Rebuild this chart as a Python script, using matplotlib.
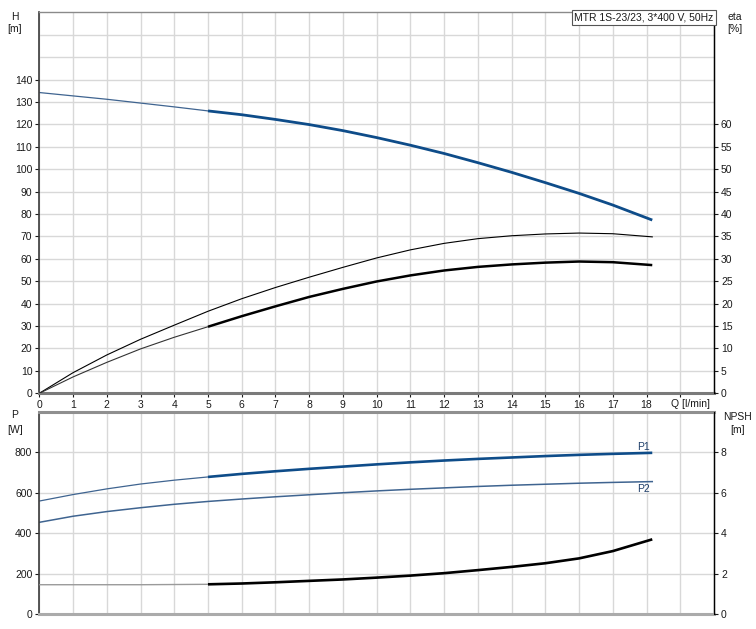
import matplotlib
matplotlib.use("Agg")
import matplotlib.pyplot as plt

# flow [l/min]
q = [0, 1, 2, 3, 4, 5, 6, 7, 8, 9, 10, 11, 12, 13, 14, 15, 16, 17, 18.17]

# head [m]
head = [134.2, 132.7, 131.2, 129.5, 127.8, 126.0, 124.3, 122.2, 119.9, 117.2,
        114.1, 110.7, 107.0, 102.9, 98.6, 94.0, 89.2, 84.0, 77.3]

# efficiencies [%]
eta_upper = [0, 4.6, 8.55, 12.05, 15.2, 18.3, 21.1, 23.6, 25.9, 28.1,
             30.2, 32.0, 33.45, 34.5, 35.15, 35.55, 35.75, 35.6, 34.9]
eta_lower = [0, 3.65, 6.9, 9.9, 12.5, 14.85, 17.2, 19.4, 21.5, 23.3,
             24.95, 26.3, 27.4, 28.2, 28.75, 29.15, 29.4, 29.25, 28.6]

# power [W]
p1 = [559, 591, 619, 643, 662, 678, 693, 706, 718, 729,
      740, 750, 759, 767, 774, 781, 787, 792, 797]
p2 = [454, 484, 507, 526, 543, 557, 569, 580, 590, 600,
      609, 617, 624, 631, 637, 642, 647, 651, 655]

# NPSH [m]
npsh = [1.46, 1.46, 1.46, 1.46, 1.47, 1.48, 1.52, 1.58, 1.65, 1.72,
        1.81, 1.91, 2.03, 2.18, 2.34, 2.52, 2.76, 3.12, 3.70]

q_ticks = list(range(0, 20))
q_labels = [str(v) for v in range(0, 19)] + [""]
h_ticks = list(range(0, 150, 10))
eta_ticks = list(range(0, 65, 5))
p_ticks = [0, 200, 400, 600, 800]
npsh_ticks = [0, 2, 4, 6, 8]

title = "MTR 1S-23/23, 3*400 V, 50Hz"

plt.rcParams['font.family'] = ['Liberation Sans', 'DejaVu Sans']
plt.rcParams['font.size'] = 7.5

BLUE = '#0e4c89'
BLUE_THIN = '#3f6490'
GRID = '#d8d8d8'
TXT = '#1a1a1a'
SPLIT = 5  # index where the thick (operating) part starts
W, H = 756, 629


def px(x, y):
    return x / W, 1 - y / H


def style_axes(ax, top_col, top_lw, bot_col, bot_lw):
    ax.set_xlim(0, 20)
    ax.set_xticks(q_ticks)
    ax.grid(True, which='both', color=GRID, lw=1.0)
    ax.set_axisbelow(True)
    ax.spines['top'].set_color(top_col)
    ax.spines['top'].set_linewidth(top_lw)
    ax.spines['bottom'].set_color(bot_col)
    ax.spines['bottom'].set_linewidth(bot_lw)
    ax.spines['left'].set_color('#3a3a3a')
    ax.spines['left'].set_linewidth(1.2)
    ax.spines['right'].set_color('black')
    ax.spines['right'].set_linewidth(1.0)
    ax.tick_params(colors=TXT, labelcolor=TXT, length=3, width=0.8, pad=2)


def draw_split(ax, y, c_thin, c_thick, lw_thin=0.8, lw_thick=1.9):
    ax.plot(q[:SPLIT + 1], y[:SPLIT + 1], color=c_thin, lw=lw_thin, solid_capstyle='butt')
    ax.plot(q[SPLIT:], y[SPLIT:], color=c_thick, lw=lw_thick, solid_capstyle='butt')


def main():
    fig = plt.figure(figsize=(W / 100, H / 100), dpi=100)

    # upper chart: head + efficiency
    ax1 = fig.add_axes([39.3 / W, 1 - 393.3 / H, (714 - 39.3) / W, (393.3 - 12.3) / H])
    style_axes(ax1, '#8a8a8a', 1.0, '#7a7a7a', 2.2)
    ax1.set_ylim(0, 170)
    ax1.set_yticks(h_ticks)
    ax1.set_yticks([150, 160], minor=True)
    ax1.tick_params(axis='y', which='minor', length=0)
    ax1.set_xticklabels(q_labels)
    draw_split(ax1, head, BLUE_THIN, BLUE, lw_thin=0.9, lw_thick=2.0)

    ax2 = ax1.twinx()
    ax2.set_ylim(0, 85)
    ax2.set_yticks(eta_ticks)
    for s in ['top', 'bottom', 'left']:
        ax2.spines[s].set_visible(False)
    ax2.spines['right'].set_color('black')
    ax2.tick_params(colors=TXT, labelcolor=TXT, length=3, width=0.8, pad=2)
    ax2.plot(q, eta_upper, color='black', lw=0.8)
    draw_split(ax2, eta_lower, '#333333', 'black', lw_thin=0.8, lw_thick=1.8)
    ax2.text(0.9995, 0.9995, title, transform=ax2.transAxes, ha='right', va='top',
             color=TXT, zorder=10,
             bbox=dict(boxstyle='square,pad=0.25', fc='white', ec='#555555', lw=0.8))

    # lower chart: power + NPSH
    ax3 = fig.add_axes([39.3 / W, 1 - 614.3 / H, (714 - 39.3) / W, (614.3 - 411.7) / H])
    style_axes(ax3, '#8f8f8f', 2.2, '#ababab', 2.2)
    ax3.set_ylim(0, 1000)
    ax3.set_yticks(p_ticks)
    ax3.set_yticks([1000], minor=True)
    ax3.tick_params(axis='x', length=0, labelbottom=False)
    ax3.tick_params(axis='y', which='minor', length=0)
    draw_split(ax3, p1, BLUE_THIN, BLUE, lw_thin=0.9, lw_thick=1.9)
    ax3.plot(q, p2, color=BLUE_THIN, lw=1.1)
    ax3.text(17.9, 828, "P1", color='#1f3f6a', ha='center', va='center')
    ax3.text(17.9, 619, "P2", color='#1f3f6a', ha='center', va='center')

    ax4 = ax3.twinx()
    ax4.set_ylim(0, 10)
    ax4.set_yticks(npsh_ticks)
    for s in ['top', 'bottom', 'left']:
        ax4.spines[s].set_visible(False)
    ax4.spines['right'].set_color('black')
    ax4.tick_params(colors=TXT, labelcolor=TXT, length=3, width=0.8, pad=2)
    draw_split(ax4, npsh, '#9a9a9a', 'black', lw_thin=1.0, lw_thick=1.9)

    # unit labels
    fig.text(*px(15, 16.7), "H", ha='center', va='center', color=TXT)
    fig.text(*px(15, 29.3), "[m]", ha='center', va='center', color=TXT)
    fig.text(*px(735, 16.7), "eta", ha='center', va='center', color=TXT)
    fig.text(*px(735, 29.3), "[%]", ha='center', va='center', color=TXT)
    fig.text(*px(690.7, 404), "Q [l/min]", ha='center', va='center', color=TXT)
    fig.text(*px(15, 415), "P", ha='center', va='center', color=TXT)
    fig.text(*px(15, 430), "[W]", ha='center', va='center', color=TXT)
    fig.text(*px(737.3, 416.7), "NPSH", ha='center', va='center', color=TXT)
    fig.text(*px(737.3, 430), "[m]", ha='center', va='center', color=TXT)

    fig.savefig("out.png", dpi=100)


main()
